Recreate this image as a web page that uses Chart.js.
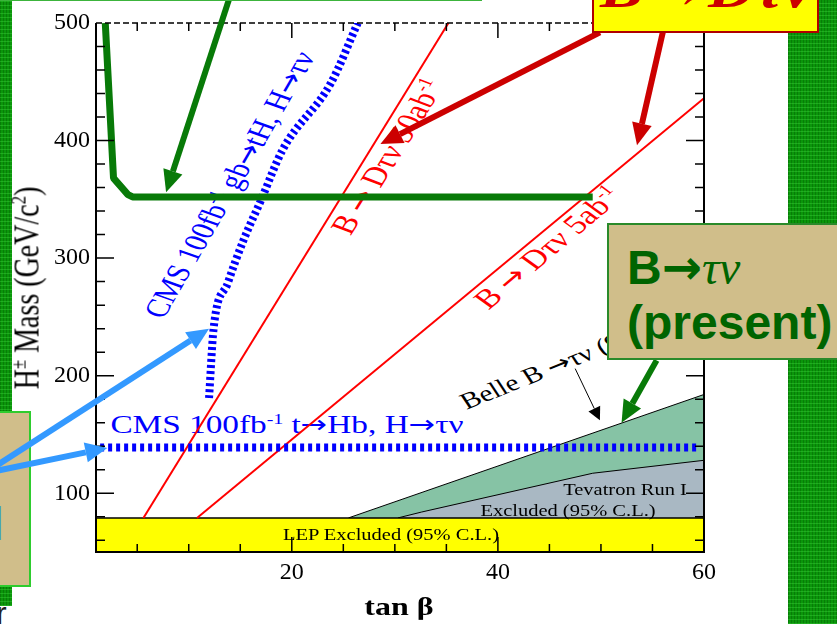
<!DOCTYPE html>
<html>
<head>
<meta charset="utf-8">
<script src="https://cdn.jsdelivr.net/npm/chart.js@4"></script>
<style>
html, body { margin: 0; padding: 0; background: #fff; overflow: hidden; }
#wrap { position: relative; width: 837px; height: 624px; overflow: hidden; background: #fff; }
.green { position: absolute; z-index: 0; background-color: #0b960b;
  background-image: repeating-linear-gradient(0deg, rgba(70,220,70,.35) 0 1px, transparent 1px 4px),
                    repeating-linear-gradient(90deg, rgba(0,80,0,.35) 0 1px, transparent 1px 3px); }
#chart { position: absolute; left: 0; top: 0; z-index: 2; }
.note { position: absolute; white-space: nowrap; line-height: 1; font-family: 'Liberation Serif', 'Times New Roman', serif; }
.note sup, .title sup { font-size: 0.6em; vertical-align: 0; position: relative; top: -0.6em; }
.ar { font-family: 'DejaVu Sans', sans-serif; font-size: 0.95em; }
.title { position: absolute; white-space: nowrap; line-height: 1; font-family: 'Liberation Serif', 'Times New Roman', serif; color: #000; z-index: 3; }
.box { position: absolute; box-sizing: border-box; z-index: 4; overflow: hidden; }
</style>
</head>
<body>
<div id="wrap">
  <div class="green" style="left:0;top:0;width:12px;height:606px"></div>
  <div class="green" style="left:788px;top:0;width:49px;height:624px"></div>
  <div class="box" style="z-index:1;left:-3px;top:411px;width:34px;height:176px;background:#d0be8a;border:2px solid #2ecc2e;">
    <span style="position:absolute;left:-8px;top:88px;font:bold 46px 'Liberation Sans',Arial,sans-serif;color:#3399ff;line-height:1">l</span>
  </div>
  <div style="position:absolute;left:-4px;top:597px;font:32px 'Liberation Sans',Arial,sans-serif;color:#222;line-height:1">r</div>

  <canvas id="chart" width="837" height="624"></canvas>

  <div class="title" style="left:399px;top:606px;font-size:25px;font-weight:bold;transform:translate(-50%,-50%) scaleX(1.28)">tan β</div>
  <div class="title" style="left:27px;top:288px;font-size:28px;transform:translate(-50%,-50%) scaleX(1.28) rotate(-90deg)">H<sup>±</sup> Mass (GeV/c<sup>2</sup>)</div>

  <div class="box" style="left:-20px;top:-60px;width:502px;height:61px;background:#fff;border:2px solid #3cb43c;"></div>
  <div class="box" style="left:592px;top:-40px;width:227px;height:73px;background:#ffff00;border:2px solid #b00000;">
    <span style="position:absolute;left:6px;top:0;font:italic bold 54px 'Liberation Serif',serif;line-height:1;color:#cc0000;transform:scaleX(1.2);transform-origin:left top;white-space:nowrap">B→Dτν</span>
  </div>
  <div class="box" style="left:607px;top:223px;width:240px;height:137px;background:#d0be8a;border:2px solid #2a8a2a;">
    <div style="position:absolute;left:18px;top:18px;font:bold 48px 'Liberation Sans',Arial,sans-serif;line-height:1;color:#006400;white-space:nowrap">B<span style="font-family:'DejaVu Sans',sans-serif">→</span><span style="font-family:'Liberation Serif',serif;font-style:italic;font-weight:normal">τν</span></div>
    <div style="position:absolute;left:18px;top:74px;font:bold 48px 'Liberation Sans',Arial,sans-serif;line-height:1;color:#006400;white-space:nowrap">(present)</div>
  </div>
</div>
<script>
// axis ranges and tick labels
const X_MIN = 1, X_MAX = 60;
const Y_MIN = 50, Y_MAX = 500;
const xTicks = [20, 40, 60];
const yTicks = [100, 200, 300, 400, 500];

// excluded regions
const lepX = [1, 60];
const lepY = [79, 79];
const belleX = [25.5, 60];
const belleY = [79, 184];
const tevatronX = [30.3, 32.6, 49.2, 60];
const tevatronY = [79, 84, 117, 128];

// B -> D tau nu reach
const dtn50X = [5.6, 35.2];
const dtn50Y = [79, 500];
const dtn5X = [10.8, 60];
const dtn5Y = [79, 436];

// CMS 100 fb-1 reach
const cmsHbX = [1.4, 59.5];
const cmsHbY = [139, 139];
const cmsTHX = [11.97, 12.4, 13.8, 15.3, 17.0, 19.1, 23.8, 26.4];
const cmsTHY = [181, 239, 279, 315, 349, 392, 449, 500];

// green hand-drawn bound
const boundX = [1.9, 2.7, 4.1, 4.55, 49.2];
const boundY = [500, 368, 354, 352, 352];

// callout arrows: [fromTan, fromMass, toTan, toMass]
const greenArrows = [[13.9, 520, 7.8, 356], [55.4, 213, 52.0, 160]];
const redArrows = [[49.9, 492, 28.6, 397], [56.0, 492, 53.5, 396]];
const blueArrows = [[-9.8, 117, 11.97, 240], [-9.8, 117, 2.1, 138.5]];
const belleArrow = [47.5, 206, 49.9, 162];

// text annotations anchored at (tan beta, mass)
const AR = '<span class="ar">→</span>';
const notes = [
  { html: 'CMS 100fb<sup>-1</sup> gb' + AR + 'tH, H' + AR + 'τν', t: 14.0, m: 362, rot: -65.7, size: 26, color: '#0000ff', over: false },
  { html: 'CMS 100fb<sup>-1</sup> t' + AR + 'Hb, H' + AR + 'τν', t: 19.5, m: 158, rot: 0, size: 26, color: '#0000ff', over: false },
  { html: 'B ' + AR + ' Dτν 50ab<sup>-1</sup>', t: 29.3, m: 386, rot: -64, size: 27, color: '#ff0000', over: false },
  { html: 'B ' + AR + ' Dτν 5ab<sup>-1</sup>', t: 44.9, m: 309, rot: -47, size: 27, color: '#ff0000', over: false },
  { html: 'Belle B ' + AR + 'τν (95% C.L.)', t: 48.8, m: 220, rot: -27.3, size: 23, color: '#000', over: false },
  { html: 'Tevatron Run I', t: 52.3, m: 103, rot: 0, size: 16, color: '#000', over: true },
  { html: 'Excluded (95% C.L.)', t: 46.8, m: 85, rot: 0, size: 16, color: '#000', over: true },
  { html: 'LEP Excluded (95% C.L.)', t: 29.6, m: 64.5, rot: 0, size: 16, color: '#000', over: true }
];

function pts(xs, ys) {
  return xs.map((x, i) => ({ x: x, y: ys[i] }));
}

function drawArrow(ctx, x1, y1, x2, y2, width, headLen, headW, color) {
  const a = Math.atan2(y2 - y1, x2 - x1);
  const bx = x2 - headLen * Math.cos(a), by = y2 - headLen * Math.sin(a);
  ctx.strokeStyle = color;
  ctx.fillStyle = color;
  ctx.lineWidth = width;
  ctx.lineCap = 'butt';
  ctx.beginPath();
  ctx.moveTo(x1, y1);
  ctx.lineTo(bx, by);
  ctx.stroke();
  ctx.beginPath();
  ctx.moveTo(x2, y2);
  ctx.lineTo(bx + headW / 2 * Math.sin(a), by - headW / 2 * Math.cos(a));
  ctx.lineTo(bx - headW / 2 * Math.sin(a), by + headW / 2 * Math.cos(a));
  ctx.closePath();
  ctx.fill();
}

const framePlugin = {
  id: 'frame',
  afterDatasetsDraw(chart) {
    const { ctx, chartArea: a, scales: { x, y } } = chart;
    ctx.save();
    ctx.strokeStyle = '#000';
    ctx.lineWidth = 2;
    ctx.beginPath();
    ctx.moveTo(a.left, a.top);
    ctx.lineTo(a.left, a.bottom);
    ctx.lineTo(a.right, a.bottom);
    ctx.lineTo(a.right, a.top);
    ctx.stroke();
    ctx.lineWidth = 1.5;
    ctx.setLineDash([6, 3]);
    ctx.beginPath();
    ctx.moveTo(a.left, a.top);
    ctx.lineTo(a.right, a.top);
    ctx.stroke();
    ctx.setLineDash([]);
    ctx.beginPath();
    for (let v = 5; v < X_MAX; v += 5) {
      const px = x.getPixelForValue(v);
      const len = v % 20 === 0 ? 15 : 8;
      ctx.moveTo(px, a.bottom); ctx.lineTo(px, a.bottom - len);
      ctx.moveTo(px, a.top); ctx.lineTo(px, a.top + len);
    }
    for (let v = 60; v < Y_MAX; v += 20) {
      const py = y.getPixelForValue(v);
      const len = v % 100 === 0 ? 18 : 9;
      ctx.moveTo(a.left, py); ctx.lineTo(a.left + len, py);
      ctx.moveTo(a.right, py); ctx.lineTo(a.right - len, py);
    }
    ctx.stroke();
    ctx.restore();
  },
  afterDraw(chart) {
    const { ctx, scales: { x, y } } = chart;
    const P = (t, m) => [x.getPixelForValue(t), y.getPixelForValue(m)];
    ctx.save();
    blueArrows.forEach(r => {
      const [x1, y1] = P(r[0], r[1]), [x2, y2] = P(r[2], r[3]);
      drawArrow(ctx, x1, y1, x2, y2, 6, 22, 20, '#3399ff');
    });
    greenArrows.forEach(r => {
      const [x1, y1] = P(r[0], r[1]), [x2, y2] = P(r[2], r[3]);
      drawArrow(ctx, x1, y1, x2, y2, 6, 22, 20, '#087a08');
    });
    redArrows.forEach(r => {
      const [x1, y1] = P(r[0], r[1]), [x2, y2] = P(r[2], r[3]);
      drawArrow(ctx, x1, y1, x2, y2, 6, 22, 20, '#cc0000');
    });
    const [bx1, by1] = P(belleArrow[0], belleArrow[1]), [bx2, by2] = P(belleArrow[2], belleArrow[3]);
    drawArrow(ctx, bx1, by1, bx2, by2, 1, 13, 13, '#000');
    ctx.restore();
  },
  afterRender(chart) {
    const { scales: { x, y } } = chart;
    notes.forEach(n => {
      n.el.style.left = x.getPixelForValue(n.t) + 'px';
      n.el.style.top = y.getPixelForValue(n.m) + 'px';
    });
  }
};

const wrap = document.getElementById('wrap');
notes.forEach(n => {
  const el = document.createElement('div');
  el.className = 'note';
  el.innerHTML = n.html;
  el.style.fontSize = n.size + 'px';
  el.style.color = n.color;
  el.style.zIndex = n.over ? 3 : 1;
  el.style.transform = 'translate(-50%,-50%) scaleX(1.28) rotate(' + n.rot + 'deg)';
  wrap.appendChild(el);
  n.el = el;
});

const line = (data, color, width, extra) => Object.assign({
  data: data, borderColor: color, borderWidth: width, pointRadius: 0,
  showLine: true, fill: false
}, extra);

new Chart(document.getElementById('chart'), {
  type: 'scatter',
  data: {
    datasets: [
      line(pts(belleX, belleY), '#000', 1, { label: 'Belle B→τν', backgroundColor: '#86c3a5', fill: { value: lepY[0] }, order: 9 }),
      line(pts(tevatronX, tevatronY), '#000', 1, { label: 'Tevatron Run I', backgroundColor: '#a9b8c3', fill: { value: lepY[0] }, order: 8 }),
      line(pts(lepX, lepY), '#000', 1.5, { label: 'LEP', backgroundColor: '#ffff00', fill: 'start', order: 7 }),
      line(pts(dtn50X, dtn50Y), '#ff0000', 2, { label: 'B→Dτν 50ab-1', order: 6 }),
      line(pts(dtn5X, dtn5Y), '#ff0000', 2, { label: 'B→Dτν 5ab-1', order: 5 }),
      line(pts(cmsHbX, cmsHbY), '#0000ff', 8, { label: 'CMS t→Hb', borderDash: [4, 4], borderCapStyle: 'butt', order: 4 }),
      line(pts(cmsTHX, cmsTHY), '#0000ff', 8, { label: 'CMS gb→tH', borderDash: [3, 3], borderCapStyle: 'butt', cubicInterpolationMode: 'monotone', order: 3 }),
      line(pts(boundX, boundY), '#087a08', 7, { label: 'bound', borderJoinStyle: 'bevel', order: 2 })
    ]
  },
  options: {
    responsive: false,
    animation: false,
    layout: { padding: { left: 0, top: 23, right: 133, bottom: 0 } },
    plugins: { legend: { display: false }, tooltip: { enabled: false } },
    scales: {
      x: {
        type: 'linear', min: X_MIN, max: X_MAX,
        grid: { display: false, drawTicks: false },
        border: { display: false },
        afterBuildTicks: s => { s.ticks = xTicks.map(v => ({ value: v })); },
        afterFit: s => { s.height = 72; },
        ticks: { color: '#000', padding: 6, maxRotation: 0, font: { family: "'Liberation Serif', 'Times New Roman', serif", size: 24 } }
      },
      y: {
        type: 'linear', min: Y_MIN, max: Y_MAX,
        grid: { display: false, drawTicks: false },
        border: { display: false },
        afterBuildTicks: s => { s.ticks = yTicks.map(v => ({ value: v })); },
        afterFit: s => { s.width = 96; },
        ticks: { color: '#000', padding: 6, font: { family: "'Liberation Serif', 'Times New Roman', serif", size: 24 } }
      }
    }
  },
  plugins: [framePlugin]
});
</script>
</body>
</html>
